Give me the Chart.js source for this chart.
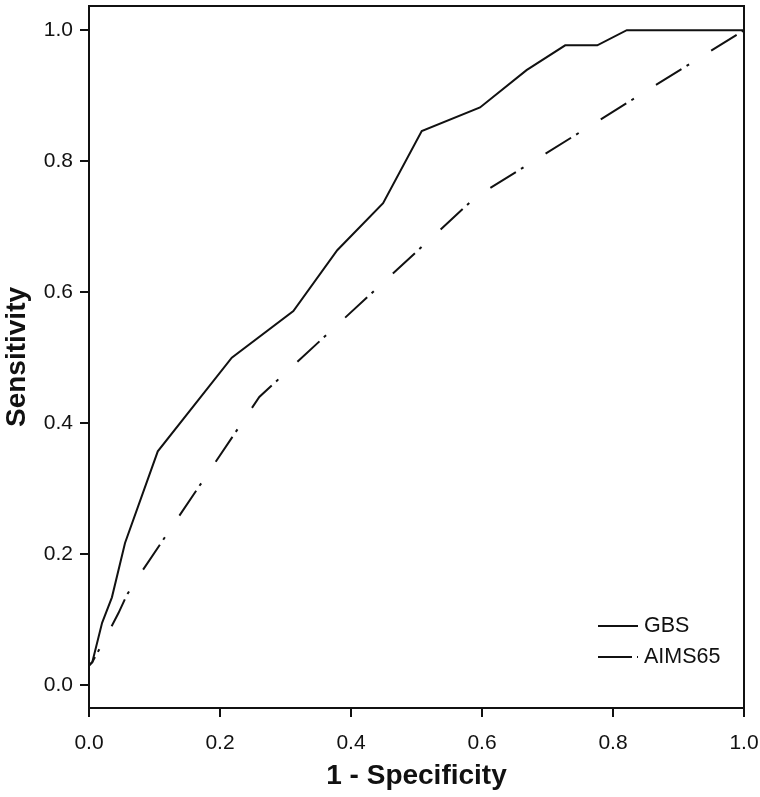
<!DOCTYPE html>
<html><head><meta charset="utf-8">
<script src="https://cdn.jsdelivr.net/npm/chart.js@4.4.0/dist/chart.umd.min.js"></script>
<style>html,body{margin:0;padding:0;background:#fff}#wrap{width:760px;height:797px}</style>
</head><body><div id="wrap"><canvas id="c" width="760" height="797"></canvas></div>
<script>
// ---- data ----
const seriesNames = ['GBS', 'AIMS65'];
const gbsX = [0, 0, 0.005, 0.02, 0.035, 0.055, 0.105, 0.218, 0.312, 0.379, 0.449, 0.508, 0.597, 0.668, 0.727, 0.776, 0.821, 1.0];
const gbsY = [0, 0.03, 0.035, 0.095, 0.134, 0.217, 0.357, 0.500, 0.571, 0.664, 0.736, 0.846, 0.882, 0.939, 0.977, 0.977, 1.0, 1.0];
const aimsX = [0, 0, 0.005, 0.029, 0.045, 0.058, 0.075, 0.26, 0.59, 1.0];
const aimsY = [0, 0.03, 0.035, 0.079, 0.110, 0.138, 0.165, 0.44, 0.745, 1.0];
const xTicks = [0.0, 0.2, 0.4, 0.6, 0.8, 1.0];
const yTicks = [0.0, 0.2, 0.4, 0.6, 0.8, 1.0];
const xTitle = '1 - Specificity';
const yTitle = 'Sensitivity';

const FONT = "'Liberation Sans', Arial, sans-serif";
const AIMS_DASH = [30, 6, 3, 26];

const toPts = (xs, ys) => xs.map((x, i) => ({x: x, y: ys[i]}));

const framePlugin = {
  id: 'frame',
  afterDraw(chart) {
    const {ctx, chartArea: a} = chart;
    ctx.save();
    ctx.strokeStyle = '#111';
    ctx.lineWidth = 2;
    ctx.strokeRect(a.left, a.top, a.right - a.left, a.bottom - a.top);
    // legend inside plot area (bottom right)
    const x0 = a.right - 146, x1 = a.right - 106, tx = a.right - 100;
    const rows = [{y: a.bottom - 82, dash: []}, {y: a.bottom - 51, dash: [34, 5, 2, 40]}];
    ctx.font = '21.5px ' + FONT;
    ctx.fillStyle = '#111';
    ctx.textBaseline = 'middle';
    ctx.textAlign = 'left';
    rows.forEach((r, i) => {
      ctx.beginPath();
      ctx.setLineDash(r.dash);
      ctx.moveTo(x0, r.y);
      ctx.lineTo(x1, r.y);
      ctx.stroke();
      ctx.setLineDash([]);
      ctx.fillText(seriesNames[i], tx, r.y);
    });
    ctx.restore();
  }
};

new Chart(document.getElementById('c'), {
  type: 'scatter',
  data: {
    datasets: [
      {label: seriesNames[0], data: toPts(gbsX, gbsY), showLine: true, borderColor: '#111', borderWidth: 2, pointRadius: 0, fill: false, tension: 0},
      {label: seriesNames[1], data: toPts(aimsX, aimsY), showLine: true, borderColor: '#111', borderWidth: 2, borderDash: AIMS_DASH, pointRadius: 0, fill: false, tension: 0}
    ]
  },
  options: {
    responsive: false,
    animation: false,
    devicePixelRatio: 1,
    layout: {padding: {top: 6, right: 16, left: 0, bottom: 0}},
    plugins: {legend: {display: false}, tooltip: {enabled: false}},
    scales: {
      x: {
        type: 'linear', min: 0, max: 1,
        afterBuildTicks: s => { s.ticks = xTicks.map(v => ({value: v})); },
        afterFit: s => { s.height = 89; s.paddingLeft = 0; s.paddingRight = 0; },
        border: {display: false},
        grid: {drawOnChartArea: false, drawTicks: true, tickLength: 9, color: '#111', lineWidth: 2},
        ticks: {color: '#111', font: {family: FONT, size: 21}, padding: 14, maxRotation: 0, callback: v => Number(v).toFixed(1)},
        title: {display: true, text: xTitle, color: '#111', font: {family: FONT, size: 28, weight: 'bold'}, padding: {top: 2}}
      },
      y: {
        type: 'linear', min: -0.035, max: 1.037,
        afterBuildTicks: s => { s.ticks = yTicks.map(v => ({value: v})); },
        afterFit: s => { s.width = 89; s.paddingTop = 0; s.paddingBottom = 0; },
        border: {display: false},
        grid: {drawOnChartArea: false, drawTicks: true, tickLength: 9, color: '#111', lineWidth: 2},
        ticks: {color: '#111', font: {family: FONT, size: 21}, padding: 7, callback: v => Number(v).toFixed(1)},
        title: {display: true, text: yTitle, color: '#111', font: {family: FONT, size: 28, weight: 'bold'}, padding: {bottom: 0, top: 0}}
      }
    }
  },
  plugins: [framePlugin]
});
</script>
</body></html>
